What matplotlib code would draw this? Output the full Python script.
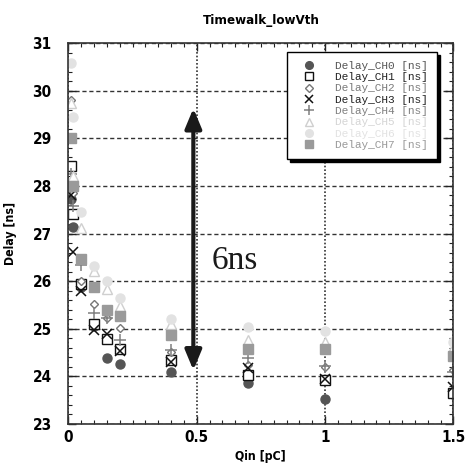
import matplotlib
matplotlib.use("Agg")
import matplotlib.pyplot as plt
from matplotlib.ticker import MultipleLocator

qin = [0.01, 0.02, 0.05, 0.1, 0.15, 0.2, 0.4, 0.7, 1.0, 1.5]

ch0 = [27.72, 27.14, 25.87, 25.05, 24.38, 24.25, 24.10, 23.86, 23.52, 23.63]
ch1 = [28.41, 27.42, 25.95, 25.10, 24.78, 24.58, 24.35, 24.03, 23.92, 23.66]
ch2 = [29.80, 27.85, 26.00, 25.52, 25.22, 25.01, 24.52, 24.24, 24.20, 24.13]
ch3 = [27.82, 26.62, 25.80, 24.97, 24.88, 24.54, 24.30, 24.17, 23.95, 23.78]
ch4 = [28.25, 27.58, 26.34, 25.33, 25.22, 24.76, 24.55, 24.38, 24.22, 24.10]
ch5 = [29.75, 28.20, 27.11, 26.22, 25.83, 25.48, 25.10, 24.76, 24.73, 24.60]
ch6 = [30.58, 29.45, 27.46, 26.32, 26.00, 25.64, 25.20, 25.04, 24.95, 24.72]
ch7 = [29.01, 27.99, 26.46, 25.87, 25.40, 25.27, 24.87, 24.58, 24.57, 24.42]

labels = ["Delay_CH0 [ns]", "Delay_CH1 [ns]", "Delay_CH2 [ns]", "Delay_CH3 [ns]",
          "Delay_CH4 [ns]", "Delay_CH5 [ns]", "Delay_CH6 [ns]", "Delay_CH7 [ns]"]
series = [ch0, ch1, ch2, ch3, ch4, ch5, ch6, ch7]
colors = ["#555555", "#111111", "#777777", "#111111", "#808080", "#cfcfcf", "#e2e2e2", "#9a9a9a"]
text_colors = ["#555555", "#222222", "#7a7a7a", "#222222", "#808080", "#d5d5d5", "#e2e2e2", "#999999"]
markers = ["o", "s", "D", "x", "+", "^", "o", "s"]
filled = [True, False, False, True, True, False, True, True]
msizes = [6.5, 6.5, 4.5, 7, 8, 6.5, 6.5, 6.5]

FONT = dict(family="DejaVu Sans", stretch="condensed", weight="bold")

fig = plt.figure(figsize=(4.65, 4.69), dpi=100)
ax = fig.add_axes([0.147, 0.096, 0.828, 0.812])

for y, lab, c, m, f, ms in zip(series, labels, colors, markers, filled, msizes):
    if m in ("x", "+"):
        ax.plot(qin, y, linestyle="none", marker=m, color=c, markersize=ms,
                markeredgewidth=1.1, label=lab)
    elif f:
        ax.plot(qin, y, linestyle="none", marker=m, color=c, markersize=ms,
                markeredgecolor=c, markerfacecolor=c, label=lab)
    else:
        ax.plot(qin, y, linestyle="none", marker=m, color=c, markersize=ms,
                markeredgecolor=c, markerfacecolor="white", markeredgewidth=1.0, label=lab)

ax.set_xlim(0, 1.5)
ax.set_ylim(23, 31)
ax.xaxis.set_major_locator(MultipleLocator(0.5))
ax.xaxis.set_minor_locator(MultipleLocator(0.05))
ax.yaxis.set_major_locator(MultipleLocator(1))
ax.yaxis.set_minor_locator(MultipleLocator(0.2))
ax.set_xticks([0, 0.5, 1, 1.5])
ax.set_xticklabels(["0", "0.5", "1", "1.5"])

ax.tick_params(which="both", direction="in", top=True, right=True, color="#222222")
ax.tick_params(which="major", length=6, width=1)
ax.tick_params(which="minor", length=3, width=0.8)
for lbl in ax.get_xticklabels() + ax.get_yticklabels():
    lbl.set_fontfamily(FONT["family"])
    lbl.set_fontstretch(FONT["stretch"])
    lbl.set_fontweight("bold")
    lbl.set_fontsize(11)
ax.tick_params(axis="y", pad=12)
ax.tick_params(axis="x", pad=4)

ax.yaxis.grid(True, which="major", linestyle=(0, (3, 2)), color="#333333", linewidth=1)
ax.xaxis.grid(True, which="major", linestyle=(0, (1, 1.2)), color="#333333", linewidth=1.2)
ax.set_axisbelow(True)

for s in ax.spines.values():
    s.set_color("#333333")
    s.set_linewidth(1.2)

ax.set_xlabel("Qin [pC]", labelpad=4, fontsize=8.8, **{"fontfamily": FONT["family"], "fontstretch": FONT["stretch"], "fontweight": "bold"})
ax.set_ylabel("Delay [ns]", labelpad=11, fontsize=8.8, **{"fontfamily": FONT["family"], "fontstretch": FONT["stretch"], "fontweight": "bold"})
ax.set_title("Timewalk_lowVth", pad=14, fontsize=9.5, **{"fontfamily": FONT["family"], "fontstretch": FONT["stretch"], "fontweight": "bold"})

# double-headed arrow
ax.annotate("", xy=(0.487, 29.63), xytext=(0.487, 24.13),
            arrowprops=dict(arrowstyle="<|-|>,head_length=1.2,head_width=0.5",
                            color="#1a1a1a", lw=3, shrinkA=0, shrinkB=0))
ax.text(0.56, 26.42, "6ns", fontsize=24, fontfamily="Liberation Serif",
        va="center", ha="left", color="#1a1a1a")

leg = ax.legend(loc="upper right", bbox_to_anchor=(0.957, 0.977), frameon=True,
                fancybox=False, shadow={"color": "black", "alpha": 1.0, "ox": 2.2, "oy": -2.2},
                prop={"family": "Liberation Mono", "size": 8},
                handletextpad=1.3, labelspacing=0.12, borderpad=0.8,
                handlelength=2.2, borderaxespad=0.0, markerscale=0.85)
leg.get_frame().set_edgecolor("black")
leg.get_frame().set_linewidth(1.0)
for t, c in zip(leg.get_texts(), text_colors):
    t.set_color(c)

fig.savefig("out.png", dpi=100)
